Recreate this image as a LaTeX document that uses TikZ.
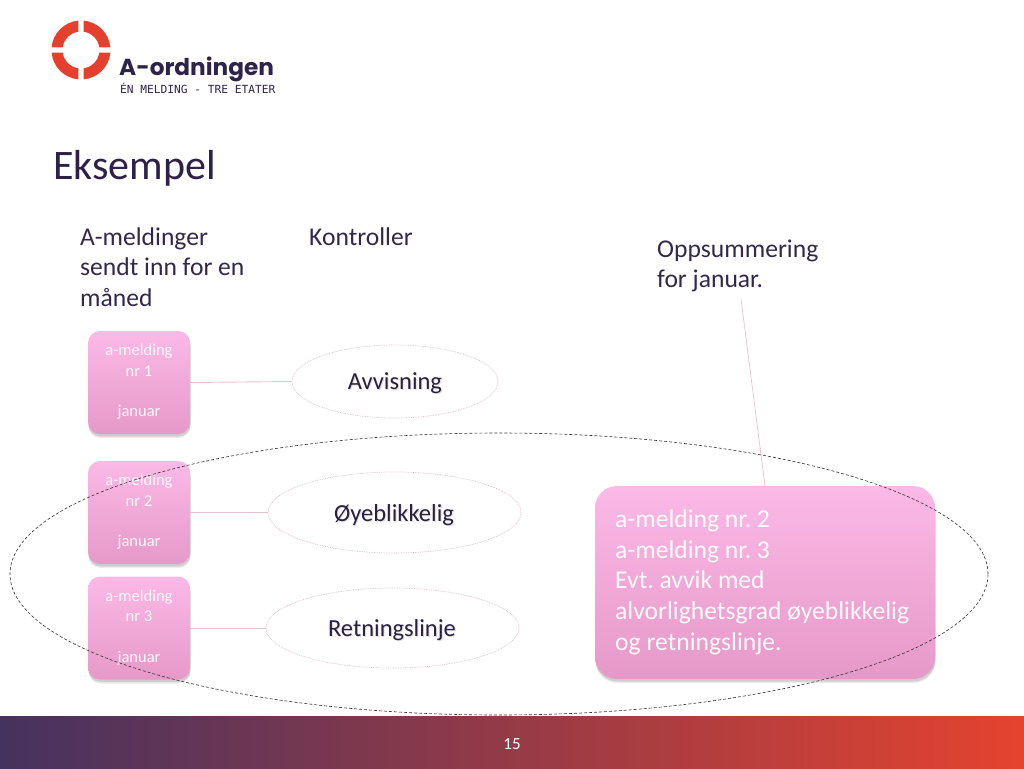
\documentclass[tikz,border=0pt]{standalone}
\usepackage{fontspec}
\setmainfont{Carlito}
\newfontfamily\logofont{Poppins}
\newfontfamily\tagfont{DejaVu Sans Mono}
\usetikzlibrary{shapes.geometric,shadows,calc}
\definecolor{titlecol}{HTML}{2E2148}
\definecolor{textcol}{HTML}{33284A}
\definecolor{labcol}{HTML}{2A2140}
\definecolor{pinktop}{HTML}{FBB9E7}
\definecolor{pinkbot}{HTML}{E699C8}
\definecolor{ellcol}{HTML}{D9B8C2}
\definecolor{conncol}{HTML}{E6C3CC}
\definecolor{logored}{HTML}{E53F2E}
\definecolor{logotext}{HTML}{2E2348}
\definecolor{barleft}{HTML}{45325F}
\definecolor{barmid}{HTML}{8C3B52}
\definecolor{barright}{HTML}{E5432F}
\frenchspacing
\newcommand{\shtext}[1]{\makebox[0pt][l]{\hspace{1pt}\raisebox{-1.2pt}{\color{black!12}#1}}#1}
\tikzset{
  hdr/.style={font=\fontsize{25.6}{30}\selectfont, text=textcol, anchor=base west, inner sep=0pt},
  softshadow/.style={
    general shadow={shadow xshift=0.5pt, shadow yshift=-4pt, opacity=0.08, fill=black},
    general shadow={shadow xshift=0.5pt, shadow yshift=-2.5pt, opacity=0.12, fill=black}},
  mbox/.style={rounded corners=12pt, top color=pinktop, bottom color=pinkbot,
    minimum width=102pt, minimum height=103pt, inner sep=0pt, softshadow},
  sbox/.style={rounded corners=22pt, top color=pinktop, bottom color=pinkbot,
    minimum width=340pt, minimum height=193pt, inner sep=0pt, softshadow},
  mtext/.style={font=\fontsize{16.5}{20}\selectfont, text=white, text opacity=0.92, anchor=base, inner sep=0pt},
  stext/.style={font=\fontsize{25.6}{31}\selectfont, text=white, text opacity=0.95, anchor=base west, inner sep=0pt},
  ctrl/.style={ellipse, draw=ellcol, densely dotted, line width=0.7pt, inner sep=0pt},
  clabel/.style={font=\fontsize{24.5}{28}\selectfont, text=labcol, anchor=base, inner sep=0pt},
  conn/.style={draw=conncol, line width=0.9pt},
  grp/.style={ellipse, draw=black!80, dash pattern=on 3pt off 2pt, line width=0.6pt, inner sep=0pt}
}
\begin{document}
\begin{tikzpicture}[x=1pt,y=-1pt]
\useasboundingbox (0,0) rectangle (1024,768);

% logo ring
\foreach \a in {45,135,225,315} {
  \fill[logored] ($(81,50)+(\a-40:29.5)$) arc[start angle=\a-40, end angle=\a+40, radius=29.5]
    -- ($(81,50)+(\a+37:18.5)$) arc[start angle=\a+37, end angle=\a-37, radius=18.5] -- cycle;
}
\node[anchor=base west, inner sep=0pt, text=logotext, font=\logofont\bfseries\fontsize{23.2}{26}\selectfont] (logo) at (119,75.5) {A-ordningen};
\node[anchor=base west, inner sep=0pt, text=logotext, font=\tagfont\fontsize{11.2}{13}\selectfont] (tag) at (120,93) {ÉN MELDING - TRE ETATER};

% title
\node[anchor=base west, inner sep=0pt, font=\fontsize{42}{48}\selectfont, text=titlecol] (title) at (53,179) {Eksempel};

% headers
\node[hdr] (h1a) at (80,245) {A-meldinger};
\node[hdr] (h1b) at (80,275.5) {sendt inn for en};
\node[hdr] (h1c) at (80,306) {måned};
\node[hdr] (h2) at (309,245) {Kontroller};
\node[hdr] (h3a) at (657,257) {Oppsummering};
\node[hdr] (h3b) at (657,287) {for januar.};

% control ellipses
\node[ctrl, minimum width=206pt, minimum height=73pt] (e1) at (395,381.5) {};
\node[ctrl, minimum width=253pt, minimum height=81pt] (e2) at (394.5,512.5) {};
\node[ctrl, minimum width=253pt, minimum height=80pt] (e3) at (392.5,628) {};
\node[clabel] (l1) at (395,389) {\shtext{Avvisning}};
\node[clabel] (l2) at (394,521) {\shtext{Øyeblikkelig}};
\node[clabel] (l3) at (392,636) {\shtext{Retningslinje}};

% message boxes
\node[mbox] (b1) at (139,382.5) {};
\node[mbox] (b2) at (139,512.5) {};
\node[mbox] (b3) at (139,628) {};
\foreach \b/\n in {b1/1,b2/2,b3/3} {
  \node[mtext] (\b t1) at ($(\b.north)+(0,25)$) {a-melding};
  \node[mtext] (\b t2) at ($(\b.north)+(0,45.5)$) {nr \n};
  \node[mtext] (\b t3) at ($(\b.north)+(0,86)$) {januar};
}

% connectors
\draw[conn] (b1.east) -- (e1.west);
\draw[conn] (b2.east) -- (e2.west);
\draw[conn] (b3.east) -- (e3.west);

% summary box
\coordinate (ostart) at (741,299);
\draw[conn, line width=0.7pt] (ostart) -- (765,486);
\node[sbox] (sum) at (765,582.5) {};
\node[stext] (s1) at (615,527) {a-melding nr. 2};
\node[stext] (s2) at (615,558) {a-melding nr. 3};
\node[stext] (s3) at (615,588.5) {Evt. avvik med};
\node[stext] (s4) at (615,619.5) {alvorlighetsgrad øyeblikkelig};
\node[stext] (s5) at (615,650) {og retningslinje.};

% group ellipse
\node[grp, minimum width=978pt, minimum height=282pt] (group) at (499,574) {};

% bottom bar
\shade[left color=barleft, middle color=barmid, right color=barright] (0,716) rectangle (1024,768);
\node[anchor=base, inner sep=0pt, text=white, font=\fontsize{17}{20}\selectfont] (page) at (512,749) {15};
\end{tikzpicture}
\end{document}
